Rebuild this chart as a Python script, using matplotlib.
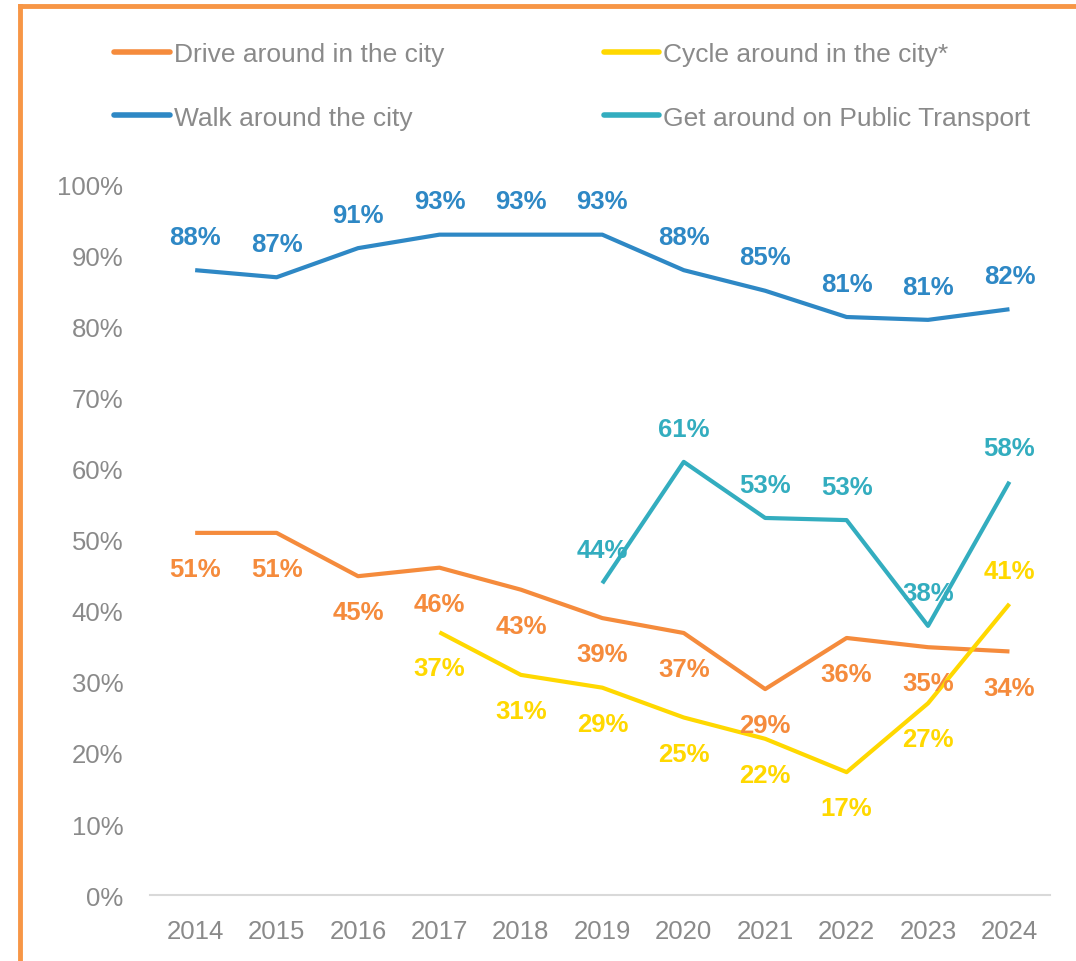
import matplotlib.pyplot as plt
from matplotlib.lines import Line2D
from matplotlib.ticker import FuncFormatter

plt.rcParams['font.family'] = ['Liberation Sans', 'DejaVu Sans']

years = ['2014', '2015', '2016', '2017', '2018', '2019', '2020', '2021', '2022', '2023', '2024']
drive = [51, 51, 44.9, 46.1, 43, 39, 36.9, 29, 36.2, 34.9, 34.3]
walk = [88, 87, 91.1, 93, 93, 93, 88, 85.1, 81.4, 81, 82.5]
cycle = [None, None, None, 37, 31, 29.2, 25, 22, 17.3, 27, 41]
transport = [None, None, None, None, None, 43.9, 61, 53.1, 52.8, 37.9, 58.2]

series = [
    ('Drive around in the city', drive, '#F58B3C', -1),
    ('Walk around the city', walk, '#2E88C5', 1),
    ('Cycle around in the city*', cycle, '#FFD800', -1),
    ('Get around on Public Transport', transport, '#33ADBF', 1),
]

grey = '#8A8A8A'

fig = plt.figure(figsize=(10.76, 9.62), dpi=100)
ax = fig.add_axes([0.139, 0.0686, 0.837, 0.7381])

handles = []
for name, vals, color, side in series:
    xs = [i for i, v in enumerate(vals) if v is not None]
    ys = [v for v in vals if v is not None]
    ln, = ax.plot(xs, ys, color=color, lw=3, solid_capstyle='butt', label=name)
    handles.append(ln)
    for i, (x, y) in enumerate(zip(xs, ys)):
        s = side
        # last cycle label sits above its point
        if vals is cycle and i == len(xs) - 1:
            s = 1
        off = 24 if s > 0 else -26
        ax.annotate(f'{round(y):.0f}%', (x, y), xytext=(0, off),
                    textcoords='offset points', ha='center', va='center',
                    fontsize=18.5, fontweight='bold', color=color)

ax.set_xlim(-0.56, 10.5)
ax.set_ylim(0, 100)
ax.set_xticks(range(len(years)))
ax.set_xticklabels(years)
ax.set_yticks(range(0, 101, 10))
ax.yaxis.set_major_formatter(FuncFormatter(lambda v, p: f'{v:.0f}%'))
ax.tick_params(length=0, labelsize=18.5, colors=grey, pad=17)
ax.tick_params(axis='y', pad=19)
for s in ['top', 'right', 'left']:
    ax.spines[s].set_visible(False)
ax.spines['bottom'].set_color('#D9D9D9')
ax.spines['bottom'].set_linewidth(1.5)

leg = fig.legend(handles=handles, loc='upper left', bbox_to_anchor=(0.084, 0.980),
                 ncol=2, frameon=False, fontsize=19, handlelength=2.1,
                 handletextpad=0.15, columnspacing=6.05, labelspacing=1.5)
for t in leg.get_texts():
    t.set_color(grey)
for h in leg.legend_handles:
    h.set_linewidth(4)
    h.set_solid_capstyle('round')

# orange frame (left and top edges)
border = '#F79646'
fig.add_artist(Line2D([0.019, 0.019], [0, 0.9925], transform=fig.transFigure,
                      color=border, lw=3.5, solid_capstyle='projecting'))
fig.add_artist(Line2D([0.019, 1.0], [0.9925, 0.9925], transform=fig.transFigure,
                      color=border, lw=3.5, solid_capstyle='projecting'))

fig.savefig('out.png', dpi=100)
